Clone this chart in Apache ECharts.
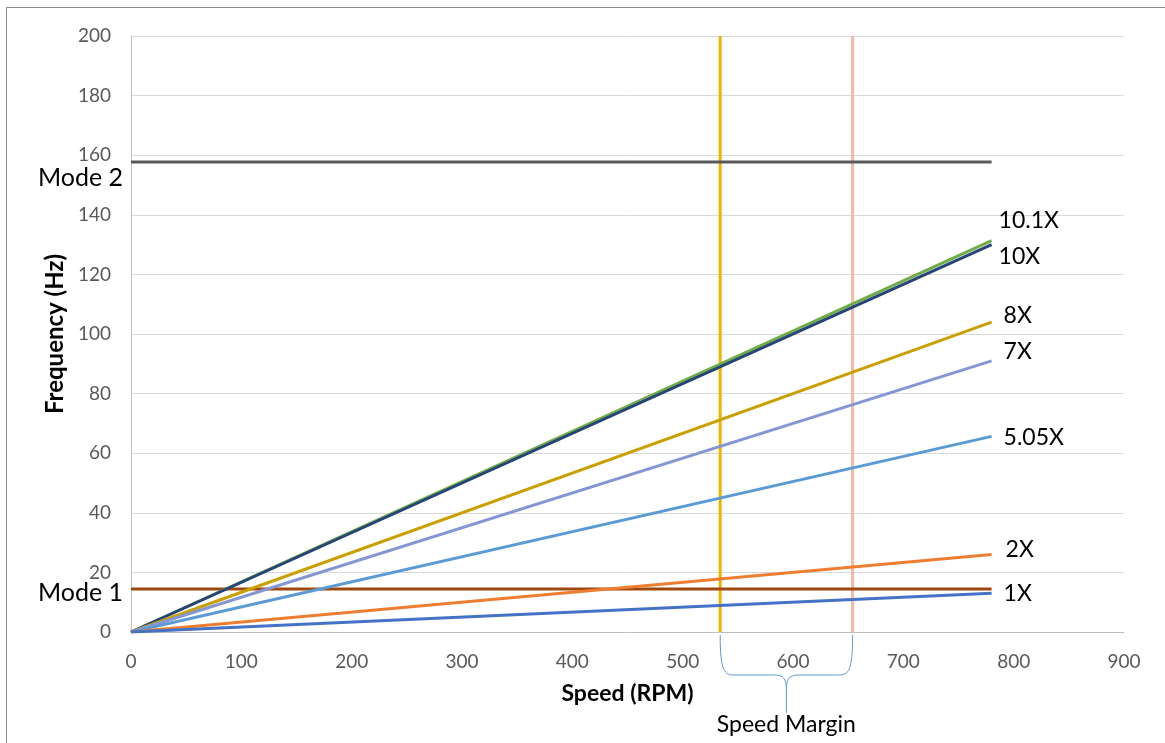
<!DOCTYPE html>
<html>
<head>
<meta charset="utf-8">
<script src="https://cdn.jsdelivr.net/npm/echarts@6/dist/echarts.min.js"></script>
<style>
  html, body { margin: 0; padding: 0; background: #fff; overflow: hidden; }
  #frame { position: absolute; left: 6px; top: 7px; width: 1200px; height: 800px;
           border-top: 1px solid #8c8c8c; border-left: 1px solid #8c8c8c; }
  #chart { position: absolute; left: 0; top: 0; width: 1165px; height: 743px; }
</style>
</head>
<body>
<div id="frame"></div>
<div id="chart"></div>
<script>
// speed range of the order lines (RPM)
var speedRange = [0, 780];
// order lines: name, frequency at 0 and at 780 RPM
var orderNames = ['10.1X', '10X', '8X', '7X', '5.05X', '2X', '1X'];
var orderFreqs = [[0, 131.3], [0, 130], [0, 104], [0, 91], [0, 65.65], [0, 26], [0, 13]];
var orderColors = ['#70AD47', '#264478', '#C9A000', '#8497D2', '#5B9BD5', '#ED7D31', '#4472C4'];
var labelOffsets = [[2, -20], [2, 12], [7, -7], [7, -9], [7, 1], [9, -5], [7, 0]];
// natural modes (Hz)
var modeNames = ['Mode 2', 'Mode 1'];
var modeFreqs = [157.7, 14.4];
var modeColors = ['#595959', '#9E480E'];
var modeOffsets = [[-3, 16], [-3, 4]];
// operating speed and speed with margin (RPM)
var marginSpeeds = [534, 654];
var marginColors = ['#F2B200', '#F4B9A4'];
var yRange = [0, 200];

var fontFamily = 'Lato, "Open Sans", sans-serif';
var series = [];

marginSpeeds.forEach(function (s, i) {
  series.push({
    type: 'line', symbol: 'none', silent: true, z: 1,
    lineStyle: { color: marginColors[i], width: 3 },
    data: [[s, yRange[0]], [s, yRange[1]]]
  });
});

modeNames.forEach(function (name, i) {
  series.push({
    name: name, type: 'line', symbol: 'circle', symbolSize: 0, showSymbol: true, z: 2,
    lineStyle: { color: modeColors[i], width: 3 },
    itemStyle: { color: modeColors[i] },
    data: [
      { value: [speedRange[0], modeFreqs[i]],
        label: { show: true, position: 'left', formatter: name, offset: modeOffsets[i],
                 color: '#000', fontSize: 25, fontFamily: fontFamily } },
      [speedRange[1], modeFreqs[i]]
    ]
  });
});

orderNames.forEach(function (name, i) {
  series.push({
    name: name, type: 'line', symbol: 'circle', symbolSize: 0, showSymbol: true, z: 3,
    lineStyle: { color: orderColors[i], width: 3 },
    itemStyle: { color: orderColors[i] },
    data: [
      [speedRange[0], orderFreqs[i][0]],
      { value: [speedRange[1], orderFreqs[i][1]],
        label: { show: true, position: 'right', formatter: name, offset: labelOffsets[i],
                 color: '#000', fontSize: 23, fontFamily: fontFamily } }
    ]
  });
});

var myChart = echarts.init(document.getElementById('chart'));
var option = {
  animation: false,
  grid: { left: 131, right: 41, top: 36, bottom: 111 },
  xAxis: {
    type: 'value', min: 0, max: 900, interval: 100,
    name: 'Speed (RPM)', nameLocation: 'middle', nameGap: 50,
    nameTextStyle: { color: '#000', fontWeight: 'bold', fontSize: 23, fontFamily: fontFamily },
    axisLine: { show: true, lineStyle: { color: '#BFBFBF', width: 1 } },
    axisTick: { show: false },
    axisLabel: { color: '#595959', fontSize: 19, margin: 20, fontFamily: fontFamily },
    splitLine: { show: false }
  },
  yAxis: {
    type: 'value', min: yRange[0], max: yRange[1], interval: 20,
    name: 'Frequency (Hz)', nameLocation: 'middle', nameGap: 62,
    nameTextStyle: { color: '#000', fontWeight: 'bold', fontSize: 24, fontFamily: fontFamily },
    axisLine: { show: true, lineStyle: { color: '#BFBFBF', width: 1 } },
    axisTick: { show: false },
    axisLabel: { color: '#595959', fontSize: 19, margin: 20, fontFamily: fontFamily },
    splitLine: { show: true, lineStyle: { color: '#D9D9D9', width: 1 } }
  },
  series: series
};
myChart.setOption(option);

// curly brace marking the speed margin below the axis
function drawBrace() {
  var p1 = myChart.convertToPixel({ gridIndex: 0 }, [marginSpeeds[0], 0]);
  var p2 = myChart.convertToPixel({ gridIndex: 0 }, [marginSpeeds[1], 0]);
  var x1 = p1[0], x2 = p2[0], y0 = p1[1] + 3;
  var mid = (x1 + x2) / 2, yb = y0 + 40, tip = y0 + 78;
  var st = { stroke: '#5B9BD5', lineWidth: 1, fill: 'none' };
  var items = [
    { type: 'bezierCurve', shape: { x1: x1, y1: y0, x2: x1 + 14, y2: yb,
        cpx1: x1, cpy1: yb - 4, cpx2: x1 + 4, cpy2: yb }, style: st },
    { type: 'line', shape: { x1: x1 + 14, y1: yb, x2: mid - 12, y2: yb }, style: st },
    { type: 'bezierCurve', shape: { x1: mid - 12, y1: yb, x2: mid, y2: yb + 14,
        cpx1: mid - 3, cpy1: yb, cpx2: mid, cpy2: yb + 4 }, style: st },
    { type: 'line', shape: { x1: mid, y1: yb + 14, x2: mid, y2: tip }, style: st },
    { type: 'bezierCurve', shape: { x1: mid + 12, y1: yb, x2: mid, y2: yb + 14,
        cpx1: mid + 3, cpy1: yb, cpx2: mid, cpy2: yb + 4 }, style: st },
    { type: 'line', shape: { x1: mid + 12, y1: yb, x2: x2 - 14, y2: yb }, style: st },
    { type: 'bezierCurve', shape: { x1: x2, y1: y0, x2: x2 - 14, y2: yb,
        cpx1: x2, cpy1: yb - 4, cpx2: x2 - 4, cpy2: yb }, style: st },
    { type: 'text', x: mid, y: tip + 12,
      style: { text: 'Speed Margin', fill: '#000', fontSize: 23, fontFamily: fontFamily,
               textAlign: 'center', textVerticalAlign: 'middle' } }
  ];
  myChart.setOption({ graphic: { elements: items } });
}
drawBrace();

window.addEventListener('resize', function () {
  myChart.resize();
  drawBrace();
});
</script>
</body>
</html>
